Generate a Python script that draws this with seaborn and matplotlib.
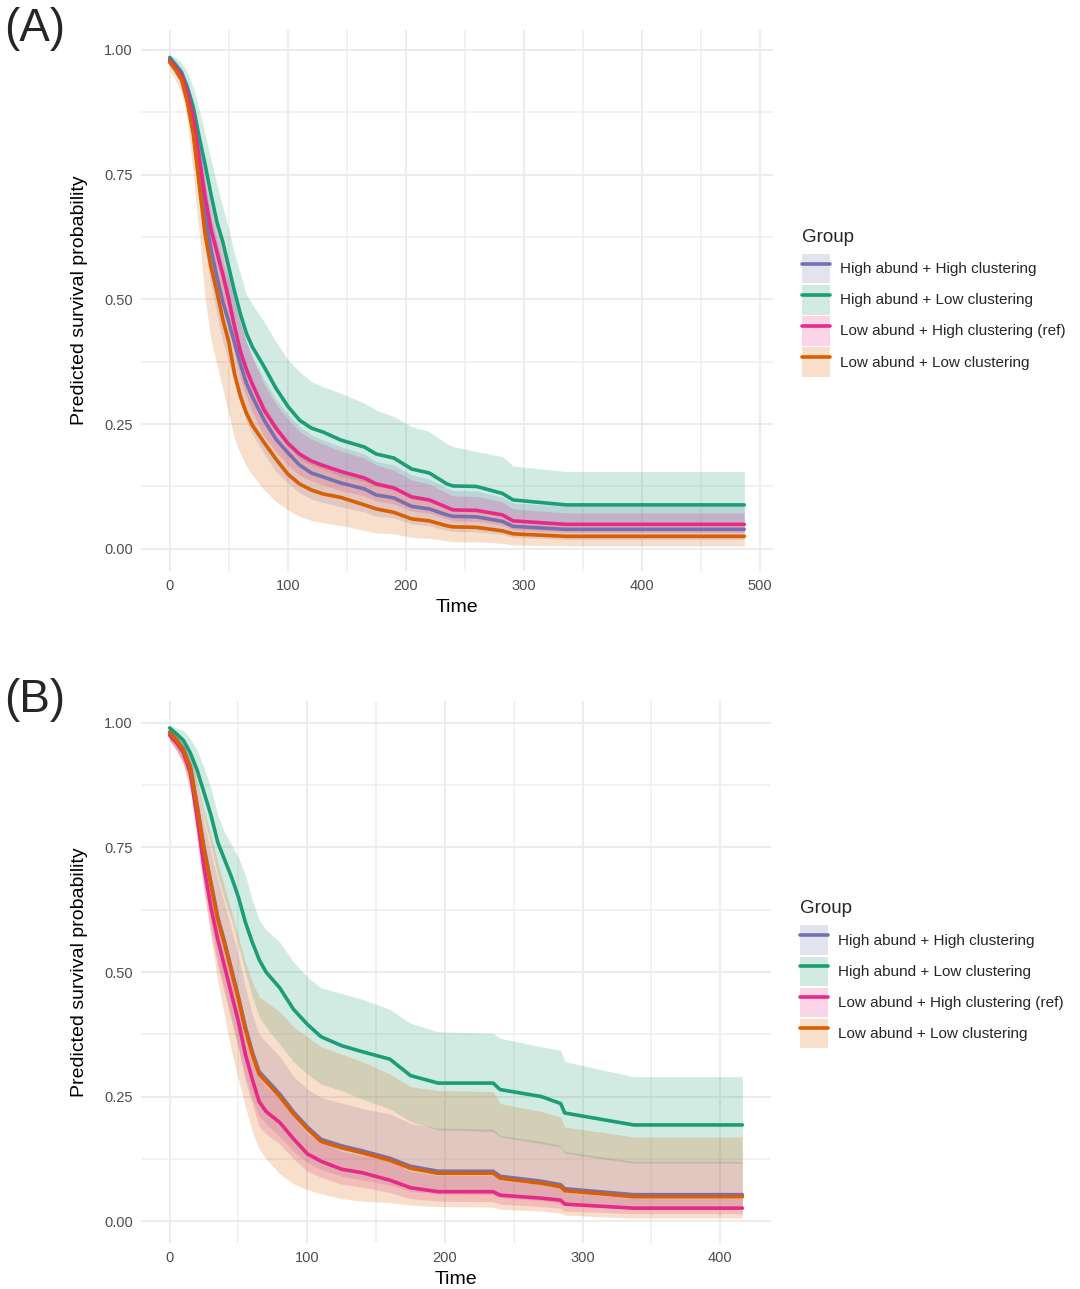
import numpy as np
import pandas as pd
import matplotlib
matplotlib.use('Agg')
import matplotlib.pyplot as plt
from matplotlib.patches import Patch
from matplotlib.lines import Line2D
import seaborn as sns

groups = ['High abund + High clustering', 'High abund + Low clustering',
          'Low abund + High clustering (ref)', 'Low abund + Low clustering']
colors = ['#7570B3', '#1B9E77', '#E7298A', '#D95F02']

# ---- panel A ----
time_a = [0, 5, 10, 15, 20, 25, 30, 35, 40, 45, 50, 55, 60, 65, 70, 80, 90, 100, 110, 120,
          130, 145, 165, 175, 190, 205, 220, 235, 240, 260, 282, 291, 336, 487]

surv_a_hh = [0.98, 0.965, 0.948, 0.91, 0.855, 0.77, 0.67, 0.6, 0.545, 0.495, 0.455, 0.412, 0.37, 0.332, 0.305, 0.258, 0.22,
             0.193, 0.168, 0.152, 0.144, 0.132, 0.12, 0.108, 0.102, 0.085, 0.08, 0.068, 0.065, 0.064, 0.055, 0.045, 0.039, 0.039]
lo_a_hh = [0.97, 0.95, 0.93, 0.88, 0.815, 0.715, 0.6, 0.53, 0.47, 0.415, 0.375, 0.33, 0.29, 0.255, 0.23, 0.19, 0.155,
           0.132, 0.112, 0.1, 0.093, 0.084, 0.074, 0.065, 0.062, 0.05, 0.046, 0.037, 0.035, 0.034, 0.029, 0.023, 0.019, 0.019]
hi_a_hh = [0.99, 0.978, 0.965, 0.935, 0.89, 0.82, 0.735, 0.67, 0.62, 0.575, 0.54, 0.495, 0.455, 0.415, 0.385, 0.34, 0.3,
           0.27, 0.245, 0.228, 0.218, 0.205, 0.19, 0.175, 0.168, 0.148, 0.14, 0.122, 0.117, 0.116, 0.103, 0.092, 0.085, 0.085]

surv_a_hl = [0.985, 0.97, 0.955, 0.925, 0.885, 0.825, 0.77, 0.71, 0.655, 0.615, 0.565, 0.515, 0.47, 0.432, 0.405, 0.365, 0.322,
             0.286, 0.258, 0.242, 0.234, 0.218, 0.204, 0.19, 0.182, 0.16, 0.152, 0.13, 0.126, 0.125, 0.111, 0.098, 0.088, 0.088]
lo_a_hl = [0.975, 0.955, 0.93, 0.89, 0.84, 0.765, 0.7, 0.635, 0.575, 0.53, 0.48, 0.435, 0.385, 0.347, 0.32, 0.28, 0.24,
           0.205, 0.18, 0.168, 0.16, 0.145, 0.135, 0.125, 0.12, 0.1, 0.094, 0.08, 0.077, 0.076, 0.066, 0.057, 0.052, 0.052]
hi_a_hl = [0.99, 0.985, 0.975, 0.955, 0.925, 0.88, 0.83, 0.78, 0.73, 0.685, 0.64, 0.59, 0.55, 0.51, 0.49, 0.455, 0.415,
           0.38, 0.355, 0.335, 0.325, 0.312, 0.292, 0.278, 0.265, 0.245, 0.235, 0.21, 0.205, 0.195, 0.185, 0.166, 0.155, 0.155]

surv_a_lh = [0.98, 0.965, 0.95, 0.915, 0.865, 0.785, 0.705, 0.64, 0.595, 0.55, 0.5, 0.445, 0.395, 0.36, 0.33, 0.278, 0.242,
             0.212, 0.19, 0.176, 0.167, 0.155, 0.142, 0.13, 0.122, 0.104, 0.098, 0.083, 0.078, 0.077, 0.068, 0.056, 0.049, 0.049]
lo_a_lh = [0.975, 0.955, 0.94, 0.9, 0.845, 0.755, 0.665, 0.595, 0.55, 0.5, 0.445, 0.39, 0.34, 0.305, 0.275, 0.225, 0.195,
           0.168, 0.148, 0.136, 0.128, 0.117, 0.106, 0.096, 0.09, 0.076, 0.071, 0.06, 0.056, 0.055, 0.047, 0.038, 0.033, 0.033]
hi_a_lh = [0.985, 0.975, 0.96, 0.93, 0.885, 0.815, 0.745, 0.685, 0.64, 0.6, 0.555, 0.5, 0.45, 0.415, 0.385, 0.33, 0.29,
           0.26, 0.235, 0.22, 0.21, 0.196, 0.182, 0.168, 0.158, 0.138, 0.13, 0.112, 0.106, 0.105, 0.094, 0.08, 0.072, 0.072]

surv_a_ll = [0.975, 0.96, 0.94, 0.895, 0.83, 0.73, 0.63, 0.565, 0.515, 0.46, 0.415, 0.35, 0.305, 0.272, 0.248, 0.213, 0.18,
             0.15, 0.13, 0.118, 0.11, 0.103, 0.088, 0.08, 0.073, 0.06, 0.056, 0.046, 0.044, 0.043, 0.036, 0.03, 0.025, 0.025]
lo_a_ll = [0.96, 0.94, 0.915, 0.86, 0.75, 0.63, 0.5, 0.42, 0.37, 0.32, 0.27, 0.22, 0.19, 0.165, 0.148, 0.118, 0.095,
           0.078, 0.065, 0.057, 0.052, 0.047, 0.037, 0.032, 0.03, 0.023, 0.021, 0.016, 0.014, 0.014, 0.011, 0.008, 0.006, 0.006]
hi_a_ll = [0.985, 0.972, 0.955, 0.92, 0.87, 0.8, 0.72, 0.66, 0.61, 0.56, 0.52, 0.46, 0.4, 0.36, 0.335, 0.29, 0.25,
           0.215, 0.19, 0.175, 0.165, 0.158, 0.14, 0.13, 0.122, 0.105, 0.098, 0.084, 0.08, 0.078, 0.068, 0.058, 0.053, 0.053]

# ---- panel B ----
time_b = [0, 5, 10, 15, 20, 25, 30, 35, 40, 45, 50, 55, 60, 65, 70, 80, 90, 100, 110, 125,
          140, 160, 175, 195, 235, 240, 270, 284, 287, 337, 416]

surv_b_hh = [0.982, 0.967, 0.948, 0.913, 0.835, 0.75, 0.68, 0.61, 0.56, 0.505, 0.45, 0.39, 0.34, 0.3, 0.285, 0.255,
             0.219, 0.189, 0.164, 0.151, 0.141, 0.126, 0.11, 0.1, 0.1, 0.09, 0.08, 0.073, 0.065, 0.053, 0.053]
lo_b_hh = [0.965, 0.945, 0.92, 0.875, 0.78, 0.68, 0.6, 0.52, 0.465, 0.405, 0.35, 0.29, 0.245, 0.21, 0.195, 0.17,
           0.14, 0.117, 0.103, 0.09, 0.083, 0.072, 0.06, 0.054, 0.053, 0.047, 0.041, 0.037, 0.032, 0.024, 0.024]
hi_b_hh = [0.992, 0.98, 0.966, 0.94, 0.87, 0.8, 0.74, 0.685, 0.635, 0.585, 0.53, 0.47, 0.415, 0.375, 0.36, 0.33,
           0.29, 0.265, 0.248, 0.237, 0.226, 0.215, 0.196, 0.187, 0.185, 0.172, 0.16, 0.152, 0.14, 0.12, 0.12]

surv_b_hl = [0.99, 0.978, 0.965, 0.94, 0.905, 0.86, 0.815, 0.76, 0.725, 0.69, 0.65, 0.6, 0.56, 0.525, 0.5, 0.468,
             0.425, 0.395, 0.37, 0.352, 0.34, 0.325, 0.292, 0.277, 0.277, 0.264, 0.25, 0.236, 0.217, 0.193, 0.193]
lo_b_hl = [0.98, 0.965, 0.94, 0.91, 0.87, 0.81, 0.755, 0.695, 0.645, 0.605, 0.555, 0.5, 0.45, 0.41, 0.39, 0.355,
           0.32, 0.295, 0.275, 0.262, 0.245, 0.225, 0.2, 0.183, 0.18, 0.169, 0.155, 0.149, 0.136, 0.116, 0.116]
hi_b_hl = [0.995, 0.99, 0.985, 0.968, 0.945, 0.91, 0.87, 0.815, 0.78, 0.755, 0.73, 0.695, 0.645, 0.605, 0.585, 0.56,
           0.52, 0.49, 0.468, 0.457, 0.445, 0.425, 0.397, 0.38, 0.377, 0.367, 0.35, 0.343, 0.32, 0.29, 0.29]

surv_b_lh = [0.975, 0.96, 0.94, 0.9, 0.81, 0.71, 0.63, 0.565, 0.51, 0.455, 0.4, 0.335, 0.285, 0.24, 0.22, 0.198,
             0.165, 0.135, 0.12, 0.104, 0.097, 0.082, 0.067, 0.059, 0.059, 0.052, 0.046, 0.042, 0.034, 0.026, 0.026]
lo_b_lh = [0.965, 0.945, 0.92, 0.875, 0.775, 0.665, 0.58, 0.51, 0.455, 0.4, 0.345, 0.28, 0.235, 0.19, 0.175, 0.155,
           0.125, 0.1, 0.088, 0.074, 0.068, 0.057, 0.045, 0.04, 0.039, 0.034, 0.029, 0.026, 0.02, 0.015, 0.015]
hi_b_lh = [0.985, 0.97, 0.955, 0.92, 0.84, 0.75, 0.675, 0.61, 0.56, 0.505, 0.45, 0.385, 0.335, 0.29, 0.27, 0.245,
           0.21, 0.175, 0.16, 0.14, 0.132, 0.12, 0.1, 0.092, 0.091, 0.082, 0.074, 0.068, 0.057, 0.046, 0.046]

surv_b_ll = [0.98, 0.965, 0.945, 0.91, 0.83, 0.745, 0.675, 0.605, 0.555, 0.5, 0.445, 0.385, 0.335, 0.295, 0.28, 0.25,
             0.215, 0.185, 0.16, 0.147, 0.137, 0.122, 0.106, 0.096, 0.096, 0.086, 0.076, 0.069, 0.061, 0.049, 0.049]
lo_b_ll = [0.965, 0.945, 0.915, 0.86, 0.76, 0.66, 0.57, 0.48, 0.41, 0.34, 0.285, 0.23, 0.18, 0.145, 0.125, 0.095,
           0.075, 0.063, 0.055, 0.045, 0.04, 0.037, 0.032, 0.029, 0.028, 0.024, 0.02, 0.016, 0.012, 0.006, 0.006]
hi_b_ll = [0.99, 0.98, 0.968, 0.945, 0.885, 0.825, 0.775, 0.72, 0.67, 0.62, 0.57, 0.52, 0.48, 0.45, 0.44, 0.42,
           0.39, 0.37, 0.35, 0.335, 0.32, 0.295, 0.27, 0.262, 0.26, 0.236, 0.22, 0.209, 0.189, 0.169, 0.169]

x_ticks_a = [0, 100, 200, 300, 400, 500]
x_ticks_b = [0, 100, 200, 300, 400]
y_ticks = [0.0, 0.25, 0.5, 0.75, 1.0]

sns.set_style('white')
plt.rcParams['font.family'] = ['Liberation Sans', 'DejaVu Sans']

fig = plt.figure(figsize=(10.8, 12.89), dpi=100)
W, H = 1080, 1289


def draw_panel(ax, time, survs, los, his, xlim, ylim, xticks):
    # confidence ribbons first, then lines on top
    for lo, hi, c in zip(los, his, colors):
        ax.fill_between(time, lo, hi, color=c, alpha=0.2, lw=0)
    frames = []
    for g, s in zip(groups, survs):
        frames.append(pd.DataFrame({'Time': time, 'surv': s, 'Group': g}))
    df = pd.concat(frames, ignore_index=True)
    sns.lineplot(data=df, x='Time', y='surv', hue='Group', hue_order=groups,
                 palette=colors, lw=2.6, estimator=None, legend=False, ax=ax)

    ax.set_xlim(*xlim)
    ax.set_ylim(*ylim)
    ax.set_xticks(xticks)
    ax.set_xticks([t + 50 for t in xticks if t + 50 < xlim[1]], minor=True)
    ax.set_yticks(y_ticks)
    ax.set_yticks([0.125, 0.375, 0.625, 0.875], minor=True)
    ax.set_yticklabels(['0.00', '0.25', '0.50', '0.75', '1.00'])
    ax.grid(which='major', color='#EBEBEB', lw=1.3)
    ax.grid(which='minor', color='#EFEFEF', lw=1.1)
    ax.set_axisbelow(True)
    for sp in ax.spines.values():
        sp.set_visible(False)
    ax.tick_params(which='both', length=0, labelsize=10.5, labelcolor='#4D4D4D', pad=6)
    ax.set_xlabel('Time', fontsize=14, color='black')
    ax.set_ylabel('Predicted survival probability', fontsize=14, color='black')
    ax.yaxis.set_label_coords(-0.084, 0.5)
    ax.xaxis.set_label_coords(0.5, -0.052)

    handles = [(Patch(facecolor=c, alpha=0.2, edgecolor='none'),
                Line2D([], [], color=c, lw=2.6)) for c in colors]
    leg = ax.legend(handles, groups, title='Group', loc='center left',
                    bbox_to_anchor=(1.046, 0.496), frameon=False, fontsize=11,
                    title_fontsize=13.5, handlelength=1.85, handleheight=2.6,
                    labelspacing=0.1, handletextpad=0.65, borderpad=0,
                    borderaxespad=0, alignment='left')
    # a bit more room between the title and the keys
    leg._legend_box.sep = 6


ax_a = fig.add_axes([141 / W, 1 - 571 / H, 632 / W, 541 / H])
draw_panel(ax_a, time_a,
           [surv_a_hh, surv_a_hl, surv_a_lh, surv_a_ll],
           [lo_a_hh, lo_a_hl, lo_a_lh, lo_a_ll],
           [hi_a_hh, hi_a_hl, hi_a_lh, hi_a_ll],
           (-24.35, 511.35), (-0.0445, 1.04), x_ticks_a)

ax_b = fig.add_axes([141 / W, 1 - 1243 / H, 630 / W, 542 / H])
draw_panel(ax_b, time_b,
           [surv_b_hh, surv_b_hl, surv_b_lh, surv_b_ll],
           [lo_b_hh, lo_b_hl, lo_b_lh, lo_b_ll],
           [hi_b_hh, hi_b_hl, hi_b_lh, hi_b_ll],
           (-20.8, 436.8), (-0.044, 1.044), x_ticks_b)

fig.text(4 / W, 1 - 29 / H, '(A)', fontsize=33, va='center', ha='left')
fig.text(4 / W, 1 - 700 / H, '(B)', fontsize=33, va='center', ha='left')

fig.savefig('out.png', dpi=100, facecolor='white')
